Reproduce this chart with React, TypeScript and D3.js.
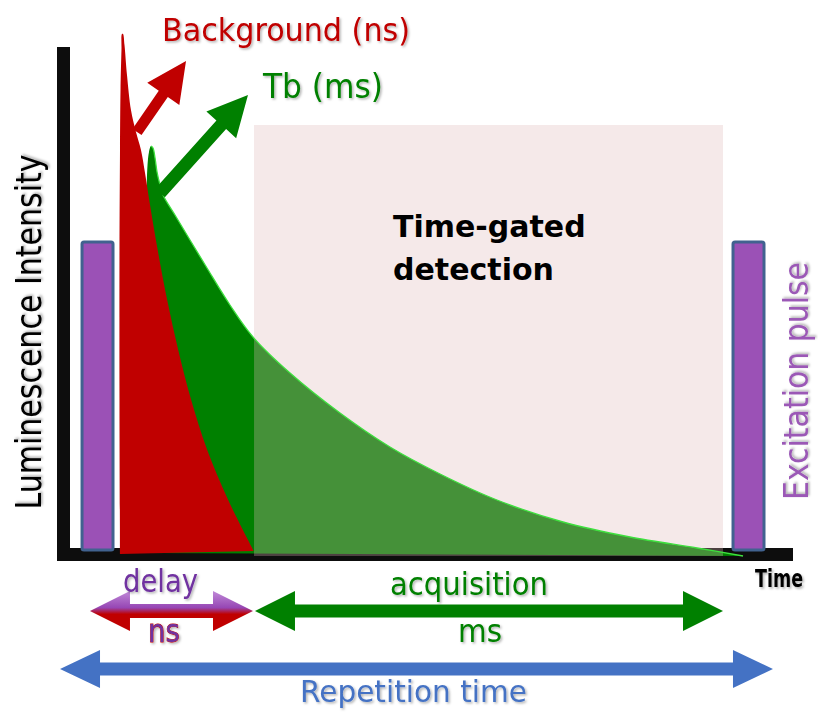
import * as d3 from "d3";

// time is in % of the repetition period, intensity in % of the axis height
const bgCurve: [number, number][] = [
  [8.56, -0.8], [8.49, 30], [8.49, 60], [8.56, 80], [8.63, 92], [8.76, 100],
  [8.83, 103.2], [8.97, 103.2], [9.17, 101], [9.51, 95], [10.05, 88],
  [10.73, 83.6], [11.41, 80], [11.96, 75.4], [12.64, 69], [13.68, 60],
  [14.97, 50], [16.47, 40], [18.23, 30], [20.41, 20], [23.26, 10],
  [26.73, -0.2],
];

const tbCurve: [number, number][] = [
  [12.09, -0.6], [12.09, 50], [12.16, 70], [12.3, 77], [12.5, 79.6],
  [12.77, 80.8], [13.04, 80.4], [13.32, 78.4], [13.59, 75.6], [14.0, 73],
  [14.4, 71], [16.03, 67], [18.07, 62], [20.38, 56.4], [23.5, 49],
  [26.63, 42.6], [31.66, 35.4], [38.45, 27.4], [45.24, 20.6], [52.04, 15.2],
  [59.78, 10], [68.75, 5.6], [77.85, 2.6], [86.96, 0.4], [93.21, -1.2],
];
const tbPeakIndex = 5;

const pulseStarts = [3.4, 91.85];
const pulseEnds = [7.61, 96.06];
const pulseHeight = 61.6;

const gateWindow = [26.77, 90.49];
const gateTop = 85;

const bgArrow: [number, number][] = [[10.87, 83.6], [17.53, 97.8]];
const tbArrow: [number, number][] = [[14.0, 71.4], [25.95, 91]];

const delaySpan = [4.48, 26.63];
const acquisitionSpan = [26.9, 90.49];
const repetitionSpan = [0.41, 97.28];

const W = 818;
const H = 718;

const x = d3.scaleLinear().domain([0, 100]).range([57, 793]);
const y = d3.scaleLinear().domain([0, 100]).range([550, 50]);

const FONT = "DejaVu Sans";

function arrowPoints(
  p0: [number, number],
  p1: [number, number],
  headLen: number,
  headHalf: number,
  shaftHalf: number
) {
  const dx = p1[0] - p0[0];
  const dy = p1[1] - p0[1];
  const len = Math.hypot(dx, dy);
  const ux = dx / len, uy = dy / len;
  const nx = -uy, ny = ux;
  const bx = p1[0] - ux * headLen, by = p1[1] - uy * headLen;
  const pts = [
    [p0[0] + nx * shaftHalf, p0[1] + ny * shaftHalf],
    [bx + nx * shaftHalf, by + ny * shaftHalf],
    [bx + nx * headHalf, by + ny * headHalf],
    [p1[0], p1[1]],
    [bx - nx * headHalf, by - ny * headHalf],
    [bx - nx * shaftHalf, by - ny * shaftHalf],
    [p0[0] - nx * shaftHalf, p0[1] - ny * shaftHalf],
  ];
  return pts.map((p) => p.join(",")).join(" ");
}

function doubleArrow(
  x1: number,
  x2: number,
  cy: number,
  headLen: number,
  headHalf: number,
  shaftHalf: number
) {
  const pts = [
    [x1, cy],
    [x1 + headLen, cy - headHalf],
    [x1 + headLen, cy - shaftHalf],
    [x2 - headLen, cy - shaftHalf],
    [x2 - headLen, cy - headHalf],
    [x2, cy],
    [x2 - headLen, cy + headHalf],
    [x2 - headLen, cy + shaftHalf],
    [x1 + headLen, cy + shaftHalf],
    [x1 + headLen, cy + headHalf],
  ];
  return pts.map((p) => p.join(",")).join(" ");
}

export default function App() {
  const line = d3
    .line<[number, number]>()
    .x((d) => x(d[0]))
    .y((d) => y(d[1]))
    .curve(d3.curveCatmullRom.alpha(0.5));

  const bgPath = line(bgCurve) + "Z";
  const tbPath = line(tbCurve) + "Z";
  const tbEdge = line(tbCurve.slice(tbPeakIndex)) || "";

  const px = (p: [number, number]): [number, number] => [x(p[0]), y(p[1])];

  return (
    <svg
      width={W}
      height={H}
      style={{ position: "absolute", left: 0, top: 0, background: "#fff" }}
      fontFamily={FONT}
    >
      <defs>
        <filter id="shadow" x="-10%" y="-30%" width="130%" height="170%">
          <feDropShadow dx="1.5" dy="1.5" stdDeviation="1" floodColor="#000" floodOpacity="0.3" />
        </filter>
        <linearGradient id="delayGrad" x1="0" y1="0" x2="0" y2="1">
          <stop offset="0" stopColor="#c08ad8" />
          <stop offset="0.42" stopColor="#9646b4" />
          <stop offset="0.58" stopColor="#c00000" />
          <stop offset="1" stopColor="#c00000" />
        </linearGradient>
      </defs>

      {/* axes */}
      <rect x={x(0)} y={y(100.6)} width={13} height={y(-2.2) - y(100.6)} fill="#0d0d0d" />
      <rect x={x(0)} y={y(0.4)} width={x(100) - x(0)} height={13} fill="#0d0d0d" />

      {/* decay curves */}
      <path d={tbPath} fill="#008000" />
      <path d={bgPath} fill="#c00000" />

      {/* gate window */}
      <rect
        x={x(gateWindow[0])}
        y={y(gateTop)}
        width={x(gateWindow[1]) - x(gateWindow[0])}
        height={y(-1.2) - y(gateTop)}
        fill="#dfb9b9"
        fillOpacity={0.31}
      />
      <path d={tbEdge} fill="none" stroke="#3fe03f" strokeWidth={1.3} />

      {/* pointer arrows */}
      <polygon points={arrowPoints(px(bgArrow[0]), px(bgArrow[1]), 40, 19.5, 5.5)} fill="#c00000" />
      <polygon points={arrowPoints(px(tbArrow[0]), px(tbArrow[1]), 40, 20, 6.5)} fill="#008000" />

      {/* excitation pulses */}
      {pulseStarts.map((s, i) => (
        <rect
          key={i}
          x={x(s)}
          y={y(pulseHeight)}
          width={x(pulseEnds[i]) - x(s)}
          height={y(0) - y(pulseHeight)}
          rx={2}
          fill="#9b51b6"
          stroke="#41628f"
          strokeWidth={3}
        />
      ))}

      {/* labels */}
      <text x={162} y={41} fontSize={32} fill="#c00000" textLength={248} lengthAdjust="spacingAndGlyphs" filter="url(#shadow)">
        Background  (ns)
      </text>
      <text x={263} y={98} fontSize={33} fill="#008000" textLength={120} lengthAdjust="spacingAndGlyphs" filter="url(#shadow)">
        Tb (ms)
      </text>
      <text x={393} y={237} fontSize={30} fontWeight="bold" fill="#000">
        Time-gated
      </text>
      <text x={393} y={280} fontSize={30} fontWeight="bold" fill="#000">
        detection
      </text>
      <text
        transform="translate(41,332) rotate(-90)"
        textAnchor="middle"
        fontSize={35}
        fill="#000"
        textLength={355}
        lengthAdjust="spacingAndGlyphs"
        filter="url(#shadow)"
      >
        Luminescence  Intensity
      </text>
      <text
        transform="translate(808,381) rotate(-90)"
        textAnchor="middle"
        fontSize={33}
        fill="#9b59b6"
        textLength={238}
        lengthAdjust="spacingAndGlyphs"
        filter="url(#shadow)"
      >
        Excitation pulse
      </text>
      <text
        transform="translate(755,587) scale(1,1.2)"
        fontSize={20}
        fontWeight="bold"
        fill="#000"
        textLength={48}
        lengthAdjust="spacingAndGlyphs"
        filter="url(#shadow)"
      >
        Time
      </text>

      {/* bottom span arrows */}
      <polygon points={doubleArrow(x(delaySpan[0]), x(delaySpan[1]), 611, 40, 20, 7)} fill="url(#delayGrad)" />
      <polygon points={doubleArrow(x(acquisitionSpan[0]), x(acquisitionSpan[1]), 611, 40, 20, 6.5)} fill="#008000" />
      <polygon points={doubleArrow(x(repetitionSpan[0]), x(repetitionSpan[1]), 669, 40, 19, 6.5)} fill="#4472c4" />

      <text x={123} y={592} fontSize={32} fill="#7030a0" textLength={75} lengthAdjust="spacingAndGlyphs" filter="url(#shadow)">
        delay
      </text>
      <text x={148} y={642} fontSize={32} fill="#7030a0" stroke="#c00000" strokeWidth={0.8} paintOrder="stroke" textLength={32} lengthAdjust="spacingAndGlyphs" filter="url(#shadow)">
        ns
      </text>
      <text x={390} y={595} fontSize={32} fill="#008000" textLength={158} lengthAdjust="spacingAndGlyphs" filter="url(#shadow)">
        acquisition
      </text>
      <text x={458} y={642} fontSize={32} fill="#008000" textLength={44} lengthAdjust="spacingAndGlyphs" filter="url(#shadow)">
        ms
      </text>
      <text x={300} y={702} fontSize={30} fill="#4472c4" textLength={227} lengthAdjust="spacingAndGlyphs" filter="url(#shadow)">
        Repetition time
      </text>
    </svg>
  );
}
